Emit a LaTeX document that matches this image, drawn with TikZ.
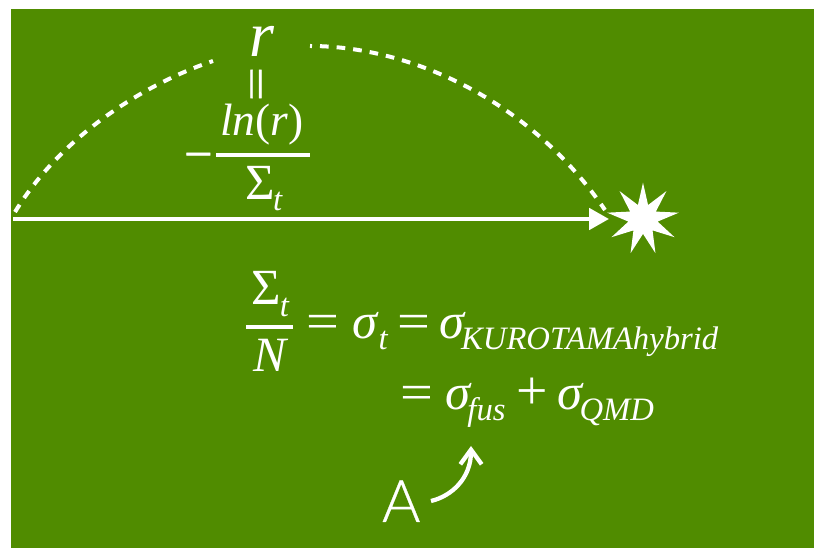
\documentclass[tikz,border=0pt]{standalone}
\usepackage{fontspec}
\setmainfont{Liberation Serif}
\newfontfamily\afont[FakeBold=0.5]{Lato Light}
\newfontfamily\eqfont[FakeBold=1]{Liberation Serif}
\usetikzlibrary{arrows.meta,shapes.geometric}
\definecolor{bggreen}{HTML}{508C00}
\newcommand{\fs}[1]{\fontsize{#1}{#1}\selectfont}
\newcommand{\sbs}[2][8pt]{{\fs{24.5}\itshape\raisebox{-#1}{#2}}}
\newcommand{\eqs}{\scalebox{1.15}[1]{=}}
\newcommand{\pls}{\scalebox{1.1}[1.1]{+}}
\tikzset{
  txt/.style={text=white,inner sep=0pt,outer sep=0pt,anchor=base west,font=\fs{38}},
  ruleline/.style={draw=white,line width=3pt},
  dotted arc/.style={draw=white,line width=3pt,dash pattern=on 6.5pt off 6pt},
  flow/.style={draw=white,line width=3pt,-{Triangle[length=15pt,width=16pt]}},
  hook/.style={draw=white,line width=3.2pt,-{Straight Barb[length=11pt,width=16pt,line width=3.2pt]}},
}
\begin{document}
\begin{tikzpicture}[x=0.75pt,y=-0.75pt]
\useasboundingbox (0,0) rectangle (814,548);
\fill[bggreen] (11,9) rectangle (814,548);
% labels
\node[txt,font=\fs{48}\itshape] (r) at (249,57) {r};
\node[txt,rotate=-90,anchor=center] (eq) at (251.5,84) {\scalebox{1.2}[0.85]{\eqfont =}};
\node[txt,font=\fs{34}] (ln) at (220,136) {\textit{ln}(\textit{r})};
\node[txt] (minus) at (184,171) {\eqfont −};
\coordinate (b1) at (216,155.5);
\coordinate (b2) at (310,155.5);
\draw[ruleline] (b1) -- (b2);
\node[txt] (sig) at (245,200) {Σ\hspace{-1pt}\sbs{t}};
% lower equation
\node[txt] (sig2) at (251,305) {Σ\hspace{-0.5pt}\sbs[9pt]{t}};
\coordinate (b3) at (246,327);
\coordinate (b4) at (293,327);
\draw[ruleline] (b3) -- (b4);
\node[txt,font=\fs{37}\itshape] (n) at (253,372) {N};
\node[txt] (eq1) at (306.5,339) {\eqs\hspace{9.5pt}\textit{σ}\sbs{t}\hspace{7.5pt}\eqs\hspace{6.5pt}\textit{σ}\hspace{-3.5pt}\sbs{KUROTAMAhybrid}};
\node[txt] (eq2) at (400,410) {\eqs\hspace{9.5pt}\textit{σ}\hspace{-3.5pt}\sbs{fus}\hspace{8pt}\pls\hspace{7.5pt}\textit{σ}\hspace{-3.5pt}\sbs{QMD}};
\node[txt,font=\fs{44}\afont] (A) at (382,522) {A};
% star
\node[star,star points=9,star point ratio=2.45,fill=white,inner sep=0pt,minimum size=54.6pt] (burst) at (643,219) {};
% connectors
\coordinate (s1) at (15,212);
\coordinate (e1) at (213,61);
\coordinate (s2) at (310,46);
\coordinate (e2) at (605,210);
\coordinate (a1) at (13,219);
\coordinate (a2) at (609,219);
\coordinate (h1) at (431,501);
\coordinate (h2) at (471,446);
\draw[dotted arc] (s1) .. controls (65,130) and (153,81) .. (e1);
\draw[dotted arc,dash phase=5pt] (s2) .. controls (410,46) and (530,100) .. (e2);
\draw[flow] (a1) -- (a2);
\draw[hook] (h1) .. controls (452,496) and (471,478) .. (h2);
\end{tikzpicture}
\end{document}
